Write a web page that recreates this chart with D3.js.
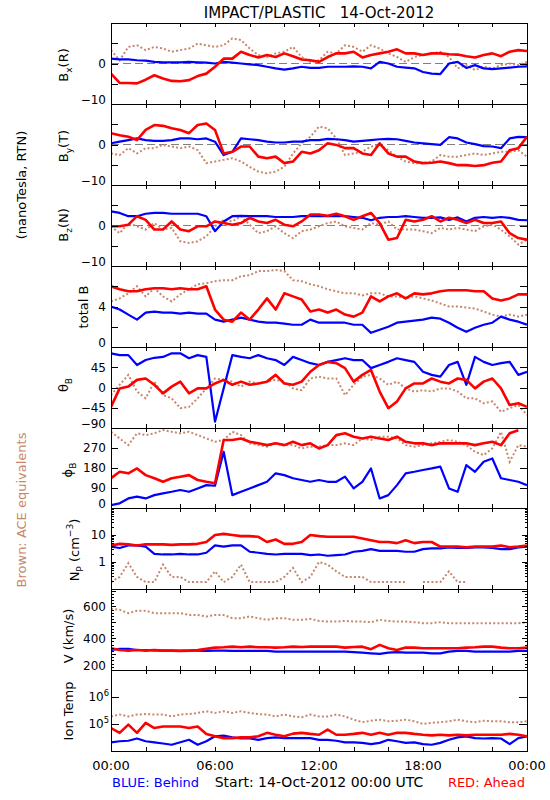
<!DOCTYPE html>
<html><head><meta charset="utf-8">
<script src="https://cdn.jsdelivr.net/npm/d3@7"></script>
<style>body{margin:0;background:#fff}svg{display:block}text{font-family:"DejaVu Sans","Liberation Sans",sans-serif}</style>
</head><body><svg id="c" width="550" height="800"></svg>
<script>
// time grid: hours after 14-Oct-2012 00:00 UTC, 30-min steps
const hours = d3.range(0, 24.001, 0.5);
const timeTicks = [0,6,12,18,24];
const timeLabels = ['00:00','06:00','12:00','18:00','00:00'];

// Bx (R), nT
const bxRed = [-2.5,-4.8,-4.8,-4.9,-4.0,-2.9,-3.7,-4.3,-4.4,-4.1,-3.1,-2.5,-0.8,1.2,1.2,2.9,2.1,1.5,2.1,1.6,2.5,1.8,1.0,0.8,0.4,1.6,2.5,2.5,2.9,1.5,2.1,2.5,2.9,3.5,2.5,2.5,2.1,2.5,2.5,2.3,2.2,1.8,1.5,2.1,2.5,1.8,2.9,3.3,3.1];
const bxBlue = [1.2,1.0,1.0,0.8,0.7,0.4,0.3,0.3,0.3,0.4,0.3,0.2,0,0.4,0.2,0,-0.2,-0.4,-0.8,-1.2,-1.5,-1.2,-0.8,-1.1,-1.1,-0.8,-0.8,-0.8,-0.7,-0.8,-1.2,0.4,0,-0.8,-1.0,-1.2,-2.1,-2.5,-2.6,0,0.4,-1.1,-0.4,-1.2,-1.4,-1.2,-1.0,-0.8,-0.7];
const bxBrown = [3.3,0.8,4.1,4.5,3.3,4.1,3.7,2.9,3.3,3.7,4.9,4.5,4.1,4.5,6.2,5.8,3.7,2.1,1.6,2.5,2.9,4.1,1.6,0.4,0.8,2.9,2.5,4.5,4.1,2.9,4.5,3.7,2.5,1.6,0.4,1.6,2.1,2.5,2.9,1.6,-1.2,-0.4,-1.6,-0.8,-1.2,-0.4,0,-0.4,0.4];
// By (T)
const byRed = [2.8,2.3,1.9,1.1,3.6,4.8,4.6,4.0,3.6,2.8,4.8,5.2,3.6,-2.2,-1.8,-0.5,-0.5,-3.0,-3.4,-3.0,-4.6,-4.2,-1.8,-2.2,-1.4,0.3,-0.1,-0.9,-0.9,-2.2,-2.6,0.3,-2.2,-3.0,-3.0,-4.2,-4.6,-4.5,-4.2,-4.6,-5.1,-5.1,-5.3,-5.1,-4.5,-4.2,-1.4,-0.9,1.9];
const byBlue = [0.3,0.7,1.1,1.5,1.1,0.9,0.9,1.1,1.5,1.5,1.3,1.5,0.7,-2.6,-1.8,1.5,1.3,1.1,0.7,0.5,0.5,0.7,0.7,1.1,1.1,1.4,1.3,1.1,0.7,0.9,1.1,1.3,1.4,1.3,0.9,0.5,0.3,0.1,-0.1,1.8,1.5,0.5,0.1,-0.4,-0.5,-0.9,1.5,1.9,1.8];
const byBrown = [-2.2,-2.6,-0.9,-2.2,-0.9,-0.9,-0.1,-0.5,-0.9,-0.5,-1.4,-4.6,-4.2,-3.8,-3.4,-4.2,-5.5,-6.7,-7.1,-6.7,-5.5,-2.2,0.3,1.9,4.4,4.0,1.5,-2.6,-2.2,-1.8,-0.5,-0.1,-1.4,-3.0,-4.2,-4.6,-4.6,-4.2,-2.6,-3.0,-3.0,-2.6,-2.2,-2.6,-2.2,-1.8,-1.8,-1.4,-3.0];
// Bz (N)
const bzRed = [-0.2,-0.2,0.2,2.3,1.4,-1.0,-1.0,1.0,-1.0,-1.4,-0.2,-0.2,1.0,0.6,0.2,0.6,1.9,1.0,0.6,1.4,0.2,-0.2,1.0,2.7,2.7,2.4,2.9,2.3,1.4,2.3,3.1,0.6,-3.5,-3.1,1.4,1.0,1.4,2.3,1.0,1.9,1.4,0.6,1.4,0.6,0.6,1.0,-1.9,-3.1,-3.5];
const bzBlue = [3.5,3.1,2.3,2.3,2.9,3.1,3.1,2.9,2.9,2.9,2.9,2.3,-1.4,1.0,2.3,2.4,2.3,2.3,2.3,2.1,2.1,2.1,2.3,2.3,2.4,2.3,2.3,2.3,2.1,1.9,1.3,1.9,2.1,2.1,2.3,2.1,1.9,1.9,2.0,1.4,2.0,1.0,1.9,2.1,1.9,2.1,1.9,1.4,1.3];
const bzBrown = [-0.2,-1.9,0.6,-0.2,-1.0,0.6,-1.0,-0.6,-3.9,-4.3,-3.9,-2.7,-0.2,1.4,1.0,2.3,0.2,-1.9,-1.4,-0.2,-1.9,-3.1,-1.4,-1.0,-0.2,0.6,1.0,-0.2,-0.6,-1.0,0.6,0.2,1.0,-1.0,-1.0,-1.0,-1.4,-1.9,-0.6,-1.0,-0.6,-1.0,-1.4,-0.2,0.2,-1.0,-2.7,-4.7,-3.5];
// total B
const btRed = [6.0,5.7,5.5,5.5,5.7,5.8,5.8,5.7,5.8,5.7,5.7,6.0,3.7,2.7,2.5,3.4,2.7,3.7,4.8,3.7,5.3,5.0,4.7,3.5,3.7,3.4,3.7,3.2,3.0,3.4,5.0,4.5,5.0,5.3,4.8,5.3,5.2,5.3,5.5,5.6,5.6,5.6,5.5,5.5,4.8,4.6,4.8,5.2,5.2];
const btBlue = [4.0,3.7,3.2,2.7,3.4,3.5,3.4,3.4,3.3,3.4,3.3,3.3,2.7,2.5,2.7,2.9,2.7,2.5,2.4,2.4,2.3,2.2,2.2,2.7,2.4,2.4,2.4,2.4,2.2,2.2,1.4,1.7,2.0,2.4,2.5,2.6,2.7,2.9,2.8,2.4,1.9,1.5,1.9,2.2,2.4,3.0,2.7,2.5,2.2];
const btBrown = [4.5,4.8,5.3,6.0,5.0,5.8,5.0,4.5,5.2,5.7,6.2,6.3,6.5,6.6,6.6,7.0,7.1,7.5,7.5,7.6,7.5,6.6,6.5,6.2,6.0,5.7,5.5,5.3,5.3,5.1,5.3,5.3,5.0,5.0,4.8,5.0,4.8,4.6,4.3,4.0,4.0,3.9,3.8,3.5,3.2,3.0,3.2,3.0,3.2];
// theta B (deg)
const thRed = [-43,-2,2,17,20,6,-13,2,13,-13,-2,-2,9,17,6,13,6,9,13,28,9,6,13,35,50,57,54,43,13,28,39,-9,-46,-31,-2,9,9,20,13,9,20,17,-2,13,20,-2,-39,-35,-43];
const thBlue = [76,72,72,50,61,66,68,76,76,65,72,68,-76,-2,72,68,65,72,65,61,50,68,61,54,50,57,61,65,61,61,43,50,57,65,61,57,35,28,24,50,57,6,68,57,50,54,57,28,35];
const thBrown = [-17,6,28,-9,-24,13,-17,-24,-46,-43,-24,-2,20,17,13,2,13,9,13,17,13,-2,-6,20,24,20,20,-17,6,24,28,20,6,13,-2,-9,-6,-9,-2,-2,-9,-24,-24,-35,-31,-54,-46,-39,-61];
// phi B (deg)
const phRed = [134,163,156,178,148,134,118,134,141,148,126,118,111,306,306,313,298,291,283,291,283,298,283,291,268,283,328,336,321,313,321,313,306,321,298,291,291,283,291,291,291,291,283,291,298,283,336,350,12];
const phBlue = [13,21,43,51,43,58,66,73,81,73,88,103,100,253,58,73,88,103,118,156,148,134,126,118,126,118,118,141,88,118,178,43,58,103,156,163,171,178,186,88,73,193,163,208,223,134,126,118,103];
const phBrown = [343,313,283,336,328,336,351,343,336,343,328,313,298,306,343,328,291,283,276,291,283,283,268,276,276,283,283,291,283,313,306,321,321,313,283,276,283,291,298,306,298,283,253,238,268,343,208,283,276];
// proton density (cm^-3)
const npRed = [4.1,4.7,4.5,4.1,4.5,4.5,4.5,4.3,4.5,4.5,4.7,5.5,10,11,10,9.1,9.1,8.6,5.5,6.8,4.7,4.7,5.5,10,9.1,8.6,8.6,8.6,8.6,7.4,6.4,5.5,5.5,5.0,6.4,5.0,5.5,5.5,3.7,3.7,3.7,3.5,3.7,3.7,3.7,4.1,3.5,3.7,4.1];
const npBlue = [3.7,3.3,4.1,4.1,3.7,2.0,1.9,1.9,2.0,1.9,1.9,2.2,4.1,3.7,4.1,4.1,2.4,2.2,2.0,1.9,2.0,2.0,2.0,1.8,1.9,1.7,1.8,1.9,2.4,2.6,3.0,2.6,2.6,2.6,2.4,2.4,3.0,3.2,3.2,3.5,3.3,3.3,3.5,3.5,3.3,3.0,3.0,3.5,3.7];
const npBrown = [0.18,0.28,0.9,0.28,0.18,0.18,0.8,0.28,0.28,0.18,0.18,0.18,0.45,0.18,0.28,0.8,0.18,0.18,0.18,0.18,0.28,0.6,0.18,0.28,1.0,0.8,0.45,0.28,0.28,0.28,0.18,0.18,0.18,0.18,0.18,null,0.18,0.18,0.18,0.45,0.18,0.18,null,null,0.28,null,null,null,null];
// bulk speed (km/s)
const vRed = [337,326,322,326,322,326,322,322,320,322,326,333,341,343,347,343,347,343,343,341,343,347,345,347,347,347,347,341,345,347,331,358,337,326,341,341,337,337,337,337,337,341,343,347,347,341,337,337,341];
const vBlue = [326,333,333,326,326,324,322,322,322,322,322,320,322,322,320,320,320,320,320,316,316,316,316,316,316,316,316,316,312,309,305,301,309,312,309,309,309,305,305,316,320,320,316,316,316,316,316,320,320];
const vBrown = [585,579,558,573,573,558,558,558,558,547,547,537,547,547,526,526,537,526,516,526,526,516,516,522,509,505,505,509,505,505,501,516,509,505,505,501,495,495,501,495,495,495,495,495,495,495,495,495,499];
// ion temperature (K)
const tRed = [71e3,47e3,95e3,47e3,110e3,71e3,81e3,81e3,81e3,71e3,81e3,43e3,35e3,30e3,30e3,32e3,32e3,35e3,47e3,40e3,35e3,44e3,47e3,43e3,40e3,62e3,40e3,40e3,43e3,47e3,40e3,47e3,40e3,47e3,47e3,43e3,40e3,38e3,40e3,38e3,40e3,38e3,40e3,40e3,40e3,40e3,43e3,40e3,35e3];
const tBlue = [21e3,23e3,24e3,29e3,23e3,21e3,19e3,17e3,21e3,26e3,17e3,23e3,35e3,37e3,32e3,29e3,29e3,26e3,30e3,32e3,30e3,30e3,30e3,30e3,26e3,26e3,24e3,21e3,21e3,20e3,18e3,20e3,26e3,23e3,20e3,21e3,18e3,17e3,20e3,26e3,32e3,35e3,30e3,29e3,30e3,29e3,18e3,30e3,35e3];
const tBrown = [191e3,224e3,191e3,224e3,234e3,224e3,224e3,191e3,224e3,234e3,257e3,295e3,257e3,295e3,257e3,295e3,257e3,234e3,224e3,191e3,224e3,191e3,178e3,224e3,191e3,191e3,224e3,191e3,145e3,117e3,132e3,145e3,126e3,132e3,145e3,126e3,100e3,110e3,117e3,126e3,145e3,126e3,117e3,132e3,126e3,126e3,117e3,117e3,126e3];

const RED = '#ff0000', BLUE = '#0000ff', BROWN = '#c8876b', GRAY = '#808080';
const L = 111, R = 527, TOP = 23, PH = 80.9;

const panels = [
  {red:bxRed, blue:bxBlue, brown:bxBrown, domain:[-10,10], major:[-10,-5,0,5,10], mlen:7, labels:[[0,'0'],[-10,'−10']], zero:true, title:[['B'],['x','sub'],['(R)']], tx:63, ty:65},
  {red:byRed, blue:byBlue, brown:byBrown, domain:[-10,10], major:[-10,-5,0,5,10], mlen:7, labels:[[0,'0'],[-10,'−10']], zero:true, title:[['B'],['y','sub'],['(T)']], tx:63, ty:146},
  {red:bzRed, blue:bzBlue, brown:bzBrown, domain:[-10,10], major:[-10,-5,0,5,10], mlen:7, labels:[[0,'0'],[-10,'−10']], zero:true, title:[['B'],['z','sub'],['(N)']], tx:63, ty:225},
  {red:btRed, blue:btBlue, brown:btBrown, domain:[0,8], major:[0,2,4,6,8], mlen:7, labels:[[4,'4'],[0,'0']], title:[['total B']], tx:83, ty:307},
  {red:thRed, blue:thBlue, brown:thBrown, domain:[-90,90], major:[-90,-45,0,45,90], mlen:7, labels:[[45,'45'],[0,'0'],[-45,'−45'],[-90,'−90']], title:[['θ'],['B','sub']], tx:63, ty:385},
  {red:phRed, blue:phBlue, brown:phBrown, wrap:true, domain:[0,360], major:[0,90,180,270,360], mlen:7, labels:[[270,'270'],[180,'180'],[90,'90'],[0,'0']], title:[['ϕ'],['B','sub']], tx:67, ty:470},
  {red:npRed, blue:npBlue, brown:npBrown, log:true, domain:[0.1,100], major:[0.1,1,10,100], mlen:5, minor:[0.2,0.3,0.4,0.5,0.6,0.7,0.8,0.9,2,3,4,5,6,7,8,9,20,30,40,50,60,70,80,90], labels:[[10,'10'],[1,'1']], title:[['N'],['P','sub'],[' (cm'],['−3','sup'],[')']], tx:74, ty:550},
  {red:vRed, blue:vBlue, brown:vBrown, domain:[200,710], major:[200,300,400,500,600,700], mlen:5, minor:d3.range(220,710,20), labels:[[600,'600'],[400,'400'],[200,'200']], title:[['V (km/s)']], tx:68, ty:636},
  {red:tRed, blue:tBlue, brown:tBrown, log:true, domain:[1e4,1e7], major:[1e4,1e5,1e6,1e7], mlen:8, labels:[[1e6,'10','6'],[1e5,'10','5']], title:[['Ion Temp']], tx:68, ty:711}
];

const svg = d3.select('#c');
const defs = svg.append('defs');
const x = d3.scaleLinear().domain([0,24]).range([L,R]);

function richText(sel, parts, size) {
  parts.forEach(([t, kind]) => {
    const ts = sel.append('tspan').text(t);
    if (kind === 'sub') ts.attr('font-size', size*0.7).attr('dy', size*0.3);
    else if (kind === 'sup') ts.attr('font-size', size*0.7).attr('dy', -size*0.45);
    else ts.attr('dy', 0);
  });
  let shift = 0;
  sel.selectAll('tspan').each(function(){
    const ts = d3.select(this), d = +ts.attr('dy');
    ts.attr('dy', d - shift); shift = d;
  });
}

// pair values with times; for angle series, leave a gap where the angle wraps
function toPoints(arr, wrap) {
  const pts = [];
  hours.forEach((h, k) => {
    if (wrap && k > 0 && arr[k] != null && arr[k-1] != null && Math.abs(arr[k] - arr[k-1]) > 200)
      pts.push([h, null]);
    pts.push([h, arr[k]]);
  });
  return pts;
}

panels.forEach((p, i) => {
  const y0 = Math.round(TOP + i*PH), y1 = Math.round(TOP + (i+1)*PH);
  const y = (p.log ? d3.scaleLog() : d3.scaleLinear()).domain(p.domain).range([y1, y0]);
  const cid = 'clip' + i;
  defs.append('clipPath').attr('id', cid).append('rect')
    .attr('x', L).attr('y', y0).attr('width', R-L).attr('height', y1-y0);
  const g = svg.append('g');
  const dg = g.append('g').attr('clip-path', `url(#${cid})`);
  if (p.zero) dg.append('line').attr('x1', L).attr('x2', R).attr('y1', y(0)).attr('y2', y(0))
      .attr('stroke', GRAY).attr('stroke-width', 1).attr('stroke-dasharray', '8,4');
  const line = d3.line().defined(d => d[1] != null).x(d => x(d[0])).y(d => y(d[1]));
  dg.append('path').attr('d', line(toPoints(p.brown, p.wrap))).attr('fill','none').attr('stroke', BROWN)
    .attr('stroke-width', 2).attr('stroke-dasharray', '2,2.2');
  dg.append('path').attr('d', line(toPoints(p.blue, p.wrap))).attr('fill','none').attr('stroke', BLUE)
    .attr('stroke-width', 2.2).attr('stroke-linejoin','round');
  dg.append('path').attr('d', line(toPoints(p.red, p.wrap))).attr('fill','none').attr('stroke', RED)
    .attr('stroke-width', 2.6).attr('stroke-linejoin','round');

  g.append('rect').attr('x', L).attr('y', y0).attr('width', R-L).attr('height', y1-y0)
    .attr('fill','none').attr('stroke','#000').attr('stroke-width',1).attr('shape-rendering','crispEdges');

  const clean = s => s.call(a => a.select('.domain').remove()).attr('shape-rendering','crispEdges');
  const yTicks = (vals, len) => {
    g.append('g').attr('transform', `translate(${L},0)`)
      .call(d3.axisLeft(y).tickValues(vals).tickSize(-len).tickFormat('')).call(clean);
    g.append('g').attr('transform', `translate(${R},0)`)
      .call(d3.axisRight(y).tickValues(vals).tickSize(-len).tickFormat('')).call(clean);
  };
  yTicks(p.major, p.mlen);
  if (p.minor) yTicks(p.minor, 2.5);
  const xt = d3.range(2, 24, 2);
  g.append('g').attr('transform', `translate(0,${y0})`)
    .call(d3.axisTop(x).tickValues(xt).tickSize(-4).tickFormat('')).call(clean);
  g.append('g').attr('transform', `translate(0,${y1})`)
    .call(d3.axisBottom(x).tickValues(xt).tickSize(-4).tickFormat('')).call(clean);

  p.labels.forEach(([v, t, sup]) => {
    const yy = Math.min(y(v), y1 - 4);
    const tx = g.append('text').attr('x', sup ? 109 : 106).attr('y', yy + 4.3)
      .attr('text-anchor','end').attr('font-size', 12).attr('fill','#000');
    if (sup) richText(tx, [[t], [sup, 'sup']], 12); else tx.text(t);
  });

  const tt = g.append('text').attr('transform', `translate(${p.tx},${p.ty}) rotate(-90)`)
    .attr('x', 0).attr('y', 4.7).attr('text-anchor','middle').attr('font-size', 13).attr('fill','#000');
  richText(tt, p.title, 13);
});

timeTicks.forEach((h, k) => {
  svg.append('text').attr('x', x(h)).attr('y', 770).attr('text-anchor','middle')
    .attr('font-size', 13).text(timeLabels[k]);
});

svg.append('text').attr('x', 319).attr('y', 17.5).attr('text-anchor','middle')
  .attr('font-size', 15).style('white-space','pre').text('IMPACT/PLASTIC   14-Oct-2012');
svg.append('text').attr('transform','translate(21,185) rotate(-90)').attr('y',4.7)
  .attr('text-anchor','middle').attr('font-size',13).text('(nanoTesla, RTN)');
svg.append('text').attr('transform','translate(21,510) rotate(-90)').attr('y',4.7)
  .attr('text-anchor','middle').attr('font-size',13).attr('fill', BROWN).text('Brown: ACE equivalents');
svg.append('text').attr('x', 112).attr('y', 787).attr('font-size', 13).attr('fill', BLUE).text('BLUE: Behind');
svg.append('text').attr('x', 319).attr('y', 786.5).attr('text-anchor','middle').attr('font-size', 14)
  .text('Start: 14-Oct-2012 00:00 UTC');
svg.append('text').attr('x', 525).attr('y', 787).attr('text-anchor','end').attr('font-size', 13).attr('fill', RED).text('RED: Ahead');
</script></body></html>
